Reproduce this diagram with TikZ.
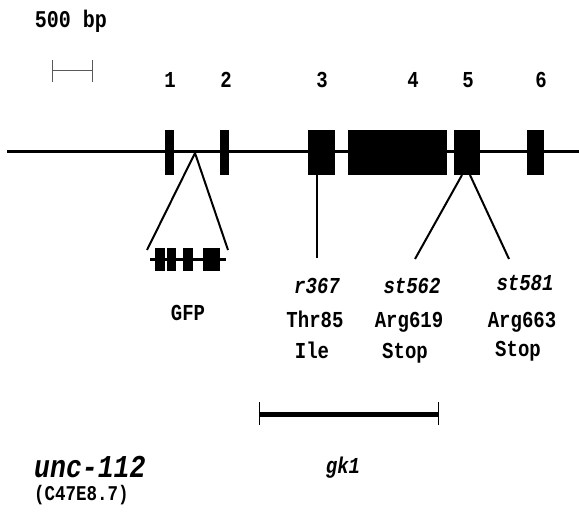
\documentclass[tikz,border=0pt]{standalone}
\usepackage{fontspec}
\usepackage{graphicx}
\setmonofont{Liberation Mono}
\newcommand{\tallt}[1]{\scalebox{1}[1.2]{#1}}
\begin{document}
\begin{tikzpicture}[x=1bp,y=-1bp,
  exon/.style={fill=black,draw=none,inner sep=0pt,minimum height=45bp},
  lbl/.style={font=\ttfamily\bfseries\fontsize{19bp}{21bp}\selectfont,inner sep=0pt,anchor=base},
  ilbl/.style={font=\ttfamily\bfseries\itshape\fontsize{19bp}{21bp}\selectfont,inner sep=0pt,anchor=base},
  mini/.style={fill=black,draw=none,inner sep=0pt,minimum height=23bp},
  conn/.style={line width=2bp,black}]
\useasboundingbox (0,0) rectangle (579,518);
% scale bar
\node[lbl,font=\ttfamily\bfseries\fontsize{20bp}{22bp}\selectfont] (scale) at (71,28) {\tallt{500 bp}};
\coordinate (sbL) at (52,71);
\coordinate (sbR) at (92,71);
\draw[gray!70!black,line width=1bp] (sbL) -- (sbR);
\draw[gray!70!black,line width=1bp] ([yshift=-11bp]sbL) -- ([yshift=11bp]sbL);
\draw[gray!70!black,line width=1bp] ([yshift=-11bp]sbR) -- ([yshift=11bp]sbR);
% exon numbers
\node[lbl] (n1) at (170,88) {\tallt{1}};
\node[lbl] (n2) at (226,88) {\tallt{2}};
\node[lbl] (n3) at (322,88) {\tallt{3}};
\node[lbl] (n4) at (413,88) {\tallt{4}};
\node[lbl] (n5) at (468,88) {\tallt{5}};
\node[lbl] (n6) at (541,88) {\tallt{6}};
% main line
\coordinate (gL) at (7,152);
\coordinate (gR) at (579,152);
\draw[line width=3bp] (gL) -- (gR);
% exons
\node[exon,minimum width=9bp] (e1) at (169,152.5) {};
\node[exon,minimum width=9bp] (e2) at (224.5,152.5) {};
\node[exon,minimum width=27bp] (e3) at (321.5,152.5) {};
\node[exon,minimum width=99bp] (e4) at (397.5,152.5) {};
\node[exon,minimum width=26bp] (e5) at (467,152.5) {};
\node[exon,minimum width=17bp] (e6) at (535.5,152.5) {};
% GFP insertion
\coordinate (gfpA) at (195,153);
\coordinate (gfpL) at (147,250);
\coordinate (gfpR) at (228,250);
\draw[conn] (gfpL) -- (gfpA) -- (gfpR);
\coordinate (mL) at (150,259);
\coordinate (mR) at (226,259);
\draw[line width=3bp] (mL) -- (mR);
\node[mini,minimum width=10bp] (m1) at (159.5,259.5) {};
\node[mini,minimum width=9bp] (m2) at (171.5,259.5) {};
\node[mini,minimum width=10bp] (m3) at (188,259.5) {};
\node[mini,minimum width=17bp] (m4) at (211.5,259.5) {};
\node[lbl] (gfp) at (188,320) {\tallt{GFP}};
% mutations
\coordinate (r367top) at (317,175);
\coordinate (r367bot) at (317,258);
\draw[line width=1.2bp] (r367top) -- (r367bot);
\coordinate (s562top) at (462,175);
\coordinate (s562bot) at (415,259);
\draw[conn] (s562top) -- (s562bot);
\coordinate (s581top) at (470,175);
\coordinate (s581bot) at (509,259);
\draw[conn] (s581top) -- (s581bot);
\node[ilbl] (r367) at (317,293) {\tallt{r367}};
\node[lbl] (thr) at (315,327) {\tallt{Thr85}};
\node[lbl] (ile) at (312,358) {\tallt{Ile}};
\node[ilbl] (st562) at (412,293) {\tallt{st562}};
\node[lbl] (arg619) at (409,327) {\tallt{Arg619}};
\node[lbl] (stop1) at (405,358) {\tallt{Stop}};
\node[ilbl] (st581) at (525,290) {\tallt{st581}};
\node[lbl] (arg663) at (522,327) {\tallt{Arg663}};
\node[lbl] (stop2) at (518,356) {\tallt{Stop}};
% deletion gk1
\coordinate (gkL) at (259,414);
\coordinate (gkR) at (438,414);
\draw[line width=5bp] (gkL) -- (gkR);
\draw[line width=1bp] ([yshift=-11bp]gkL) -- ([yshift=12bp]gkL);
\draw[line width=1bp] ([yshift=-11bp]gkR) -- ([yshift=12bp]gkR);
\node[ilbl] (gk1) at (343,473) {\tallt{gk1}};
% gene name
\node[ilbl,anchor=base west,font=\ttfamily\bfseries\itshape\fontsize{26.5bp}{28bp}\selectfont] (unc) at (34,477) {\tallt{unc-112}};
\node[lbl,anchor=base west,font=\ttfamily\bfseries\fontsize{17.5bp}{19bp}\selectfont] (cosmid) at (34,500) {\tallt{(C47E8.7)}};
\end{tikzpicture}
\end{document}
